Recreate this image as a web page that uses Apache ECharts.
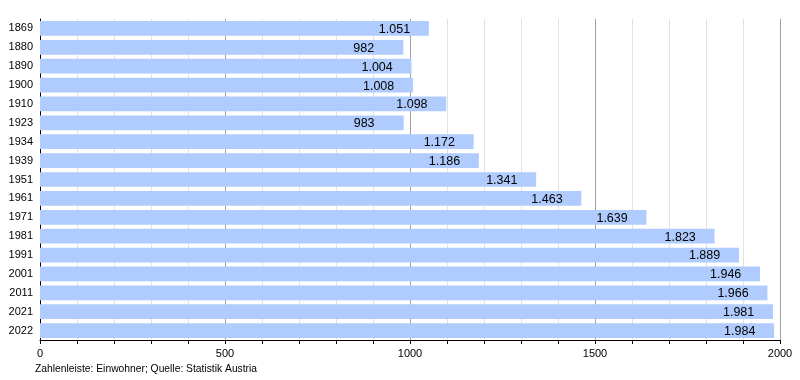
<!DOCTYPE html>
<html><head><meta charset="utf-8">
<script src="https://cdn.jsdelivr.net/npm/echarts@6/dist/echarts.min.js"></script>
<style>html,body{margin:0;padding:0;background:#fff}#c{width:800px;height:380px}</style>
</head><body><div id="c"></div>
<script>
const years = ['1869','1880','1890','1900','1910','1923','1934','1939','1951','1961','1971','1981','1991','2001','2011','2021','2022'];
const population = [1051,982,1004,1008,1098,983,1172,1186,1341,1463,1639,1823,1889,1946,1966,1981,1984];
const xTicks = [0,500,1000,1500,2000];
const footnote = 'Zahlenleiste: Einwohner; Quelle: Statistik Austria';

function fmt(v){ return String(v).replace(/\B(?=(\d{3})+(?!\d))/g,'.'); }

const chart = echarts.init(document.getElementById('c'), null, {renderer:'canvas'});
chart.setOption({
  animation:false,
  textStyle:{fontFamily:'Liberation Sans, Arial, sans-serif'},
  grid:{left:40,right:20,top:19,bottom:40,containLabel:false},
  xAxis:{
    type:'value', min:xTicks[0], max:xTicks[xTicks.length-1], interval:500,
    axisLine:{show:true,lineStyle:{color:'#000',width:1}},
    axisTick:{show:true,length:4,lineStyle:{color:'#000'}},
    minorTick:{show:true,splitNumber:5,length:4,lineStyle:{color:'#000'}},
    splitLine:{show:true,lineStyle:{color:'#a0a0a0',width:1}},
    minorSplitLine:{show:true,lineStyle:{color:'#e2e2e2',width:1}},
    axisLabel:{color:'#000',fontSize:11,margin:8,formatter:v=>String(v)}
  },
  yAxis:{
    type:'category', data:years, inverse:true,
    axisLine:{show:true,lineStyle:{color:'#000',width:1}},
    axisTick:{show:false},
    axisLabel:{color:'#000',fontSize:11,margin:7},
    splitLine:{show:false}
  },
  series:[{
    type:'bar', data:population, barCategoryGap:'22%',
    itemStyle:{color:'#b0cbfd'},
    label:{show:true,position:'right',distance:0,offset:[-50,1],color:'#000',fontSize:12.5,
      formatter:p=>fmt(p.value)}
  }],
  graphic:[{type:'text',left:35,top:364,style:{text:footnote,fill:'#000',fontSize:10.3,fontFamily:'Liberation Sans, Arial, sans-serif'}}]
});
</script></body></html>
